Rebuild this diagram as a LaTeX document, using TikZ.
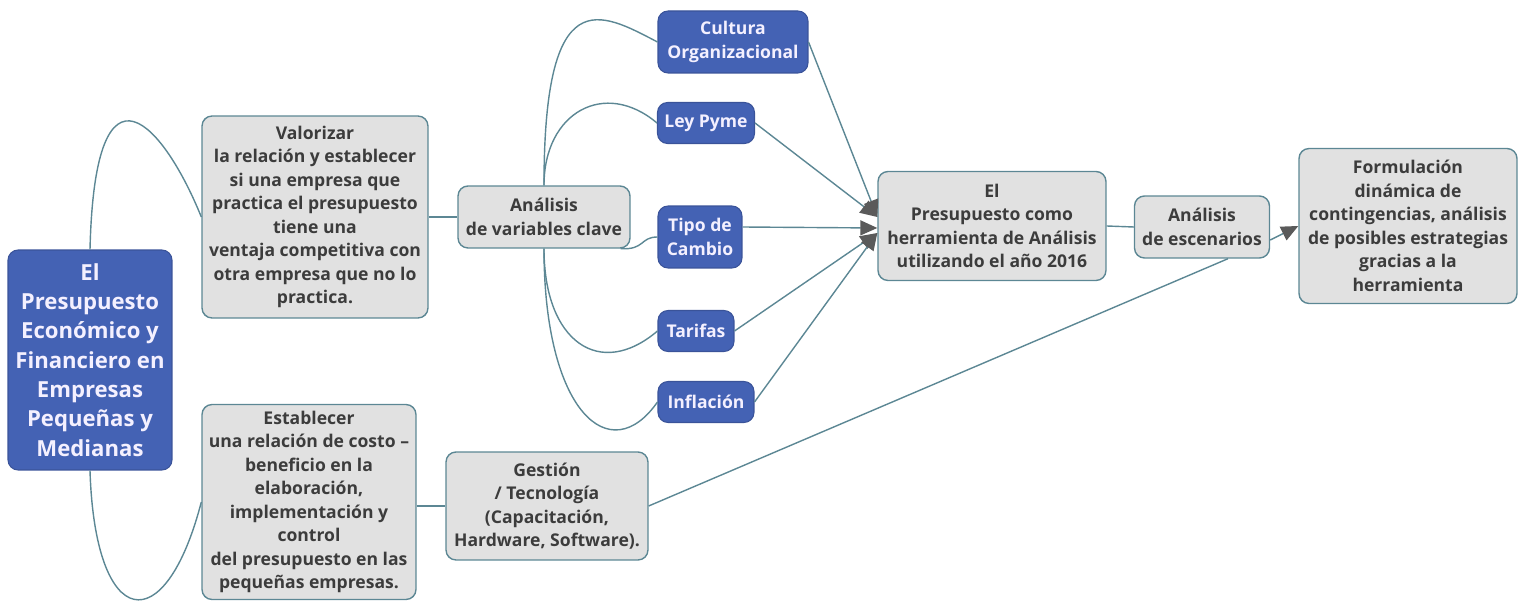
\documentclass[tikz,border=0pt]{standalone}
\usepackage{fontspec}
\setmainfont{Open Sans}
\usepackage{tikz}
\usetikzlibrary{arrows.meta}
\definecolor{rootblue}{RGB}{68,98,180}
\definecolor{boxgray}{RGB}{225,225,225}
\definecolor{edgeteal}{RGB}{92,135,148}
\definecolor{textgray}{RGB}{60,60,60}
\definecolor{tipgray}{RGB}{90,90,90}
\definecolor{bluetext}{RGB}{244,240,255}

\begin{document}
\begin{tikzpicture}[x=.02cm, y=.02cm,
    graybox/.style={draw=edgeteal, line width=.8pt, fill=boxgray, rounded corners=.2cm,
      align=center, inner sep=1pt, text=textgray,
      font=\bfseries\fontsize{10}{13.4}\selectfont},
    bluebox/.style={draw=rootblue!85!black, line width=.6pt, fill=rootblue, rounded corners=.2cm,
      align=center, inner sep=1pt, text=bluetext,
      font=\bfseries\fontsize{10}{13.4}\selectfont},
    link/.style={draw=edgeteal, line width=.8pt},
    arr/.style={link, -{Triangle[length=.34cm, width=.3cm, color=tipgray]}}]
    \useasboundingbox (0,0) rectangle (1526,602);
    \node[bluebox, minimum width=3.28cm, minimum height=4.4cm,
      font=\bfseries\fontsize{12.6}{16.7}\selectfont] (root) at (90,242)
      {El\\Presupuesto\\Económico y\\Financiero en\\Empresas\\Pequeñas y\\Medianas};
    \node[graybox, minimum width=4.52cm, minimum height=4.04cm] (valor) at (315,385)
      {Valorizar\\la relación y establecer\\si una empresa que\\practica el presupuesto\\tiene una\\ventaja competitiva con\\otra empresa que no lo\\practica.};
    \node[graybox, minimum width=4.28cm, minimum height=3.9cm] (estab) at (309,100)
      {Establecer\\una relación de costo –\\beneficio en la\\elaboración,\\implementación y\\control\\del presupuesto en las\\pequeñas empresas.};
    \node[graybox, minimum width=3.44cm, minimum height=1.24cm] (anal) at (544,385)
      {Análisis\\de variables clave};
    \node[graybox, minimum width=4.04cm, minimum height=2.16cm] (gest) at (547,96)
      {Gestión\\/ Tecnología\\(Capacitación,\\Hardware, Software).};
    \node[bluebox, minimum width=3cm, minimum height=1.24cm] (cult) at (733,560)
      {Cultura\\Organizacional};
    \node[bluebox, minimum width=1.94cm, minimum height=.82cm] (ley) at (706,479) {Ley Pyme};
    \node[bluebox, minimum width=1.68cm, minimum height=1.24cm] (tipo) at (700,365) {Tipo de\\Cambio};
    \node[bluebox, minimum width=1.52cm, minimum height=.82cm] (tarif) at (696,271) {Tarifas};
    \node[bluebox, minimum width=1.92cm, minimum height=.82cm] (infl) at (706,200) {Inflación};
    \node[graybox, minimum width=4.56cm, minimum height=2.18cm] (pres) at (992,376)
      {El\\Presupuesto como\\herramienta de Análisis\\utilizando el año 2016};
    \node[graybox, minimum width=2.7cm, minimum height=1.24cm] (esce) at (1202,375)
      {Análisis\\de escenarios};
    \node[graybox, minimum width=4.36cm, minimum height=3.1cm] (form) at (1408,376)
      {Formulación\\dinámica de\\contingencias, análisis\\de posibles estrategias\\gracias a la\\herramienta};
    \draw[link] (root.north) .. controls (95,560) and (165,475) .. (valor.west);
    \draw[link] (root.south) .. controls (95,-30) and (165,-40) .. (estab.west);
    \draw[link] (valor.east) -- (anal.west);
    \draw[link] (gest.west -| estab.east) -- (gest.west);
    \draw[link] (anal.north) .. controls (544,623) and (600,590) .. (cult.west);
    \draw[link] (anal.north) .. controls (544,490) and (605,523) .. (ley.west);
    \draw[link] ([xshift=-.2cm]anal.south east) .. controls (645,352) and (640,365) .. (tipo.west);
    \draw[link] (anal.south) .. controls (544,260) and (600,222) .. (tarif.west);
    \draw[link] (anal.south) .. controls (544,190) and (610,132) .. (infl.west);
    \draw[arr] (cult.east) -- ([yshift=.18cm]pres.west);
    \draw[arr] (ley.east) -- ([yshift=.18cm]pres.west);
    \draw[arr] ([yshift=.2cm]tipo.east) -- ([yshift=-.04cm]pres.west);
    \draw[arr] (tarif.east) -- ([yshift=-.14cm]pres.west);
    \draw[arr] (infl.east) -- ([yshift=-.14cm]pres.west);
    \draw[link] (pres.east) -- (esce.west);
    \draw[arr] ([yshift=-.26cm]esce.east) -- (form.west);
    \draw[link] (gest.east) -- ([xshift=.52cm]esce.south);
\end{tikzpicture}
\end{document}
